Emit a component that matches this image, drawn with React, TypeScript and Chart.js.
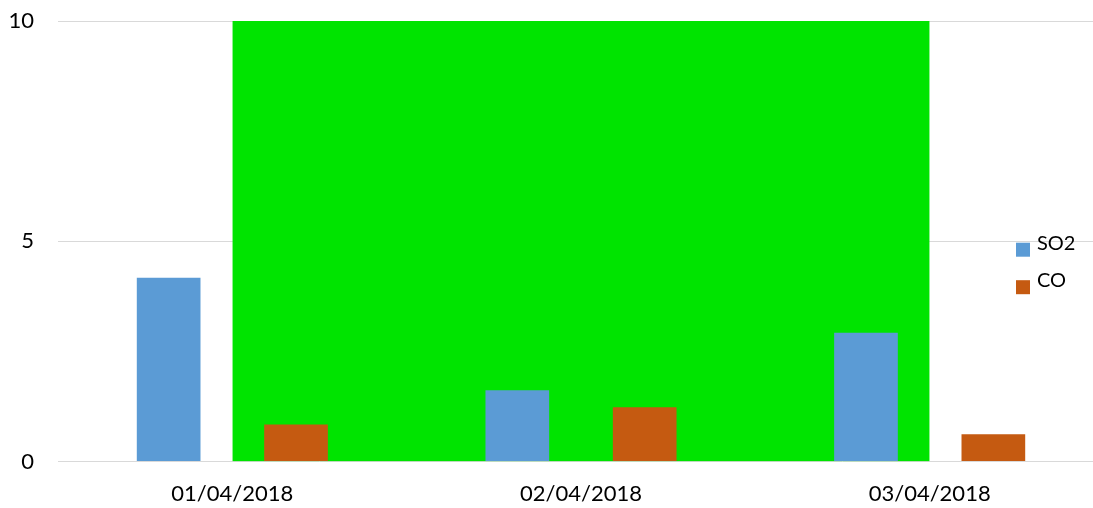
import React, { useEffect, useRef } from "react";
import { Chart, registerables } from "chart.js";

Chart.register(...registerables);

const categories = ["01/04/2018", "02/04/2018", "03/04/2018"];
const so2Values = [4.17, 1.62, 2.92];
const coValues = [0.84, 1.23, 0.62];
const spacerValues: (number | null)[] = [null, null, null];
const bandValues = [10, 10, 10];
const yTicks = [0, 5, 10];

const FONT = "Lato, 'Open Sans', sans-serif";

const sideLegend = {
  id: "sideLegend",
  afterDraw(chart: any) {
    const ctx = chart.ctx;
    const items = chart.data.datasets.filter((d: any) => d.inLegend);
    ctx.save();
    ctx.font = `20px ${FONT}`;
    ctx.textAlign = "left";
    ctx.textBaseline = "alphabetic";
    items.forEach((d: any, i: number) => {
      const boxX = 1016;
      const boxY = 242.7 + i * 37.5;
      ctx.fillStyle = d.backgroundColor;
      ctx.fillRect(boxX, boxY, 14, 14);
      ctx.fillStyle = "#000000";
      ctx.fillText(d.label, 1037, 249.5 + i * 37.5);
    });
    ctx.restore();
  },
};

export default function App() {
  const ref = useRef<HTMLCanvasElement | null>(null);

  useEffect(() => {
    if (!ref.current) return;
    const chart = new Chart(ref.current, {
      type: "bar",
      data: {
        labels: categories,
        datasets: [
          {
            type: "bar",
            label: "SO2",
            data: so2Values,
            backgroundColor: "#5B9BD5",
            borderWidth: 0,
            order: 0,
            inLegend: true,
          } as any,
          {
            type: "bar",
            label: "",
            data: spacerValues,
            backgroundColor: "rgba(0,0,0,0)",
            borderWidth: 0,
            order: 0,
          } as any,
          {
            type: "bar",
            label: "CO",
            data: coValues,
            backgroundColor: "#C55A11",
            borderWidth: 0,
            order: 0,
            inLegend: true,
          } as any,
          {
            type: "line",
            label: "band",
            data: bandValues,
            backgroundColor: "#00E400",
            borderColor: "rgba(0,0,0,0)",
            borderWidth: 0,
            pointRadius: 0,
            pointHoverRadius: 0,
            tension: 0,
            fill: "origin",
            order: 1,
          } as any,
        ],
      },
      options: {
        responsive: false,
        animation: false,
        devicePixelRatio: 1,
        layout: { padding: { top: 21, left: 0, right: 0, bottom: 0 } },
        datasets: {
          bar: { categoryPercentage: 0.548, barPercentage: 1.0 },
        },
        plugins: {
          legend: { display: false },
          tooltip: { enabled: false },
        },
        scales: {
          x: {
            grid: { display: false, drawTicks: false },
            border: { display: false },
            ticks: {
              color: "#000000",
              font: { family: FONT, size: 22 },
              padding: 19,
              maxRotation: 0,
            },
            afterFit: (s: any) => {
              s.height = 46.5;
            },
          },
          y: {
            min: 0,
            max: 10,
            grid: { color: "#D9D9D9", lineWidth: 1, drawTicks: false },
            border: { display: false },
            ticks: {
              color: "#000000",
              font: { family: FONT, size: 22 },
              padding: 24,
            },
            afterBuildTicks: (s: any) => {
              s.ticks = yTicks.map((v) => ({ value: v }));
            },
            afterFit: (s: any) => {
              s.width = 58;
              s.paddingTop = 13;
              s.paddingBottom = 13;
            },
          },
        },
      },
      plugins: [sideLegend],
    });
    return () => chart.destroy();
  }, []);

  return (
    <div
      style={{
        position: "fixed",
        left: 0,
        top: 0,
        width: 1093,
        height: 508,
        overflow: "hidden",
        background: "#ffffff",
      }}
    >
      <canvas ref={ref} width={1104} height={508} style={{ display: "block" }} />
    </div>
  );
}
